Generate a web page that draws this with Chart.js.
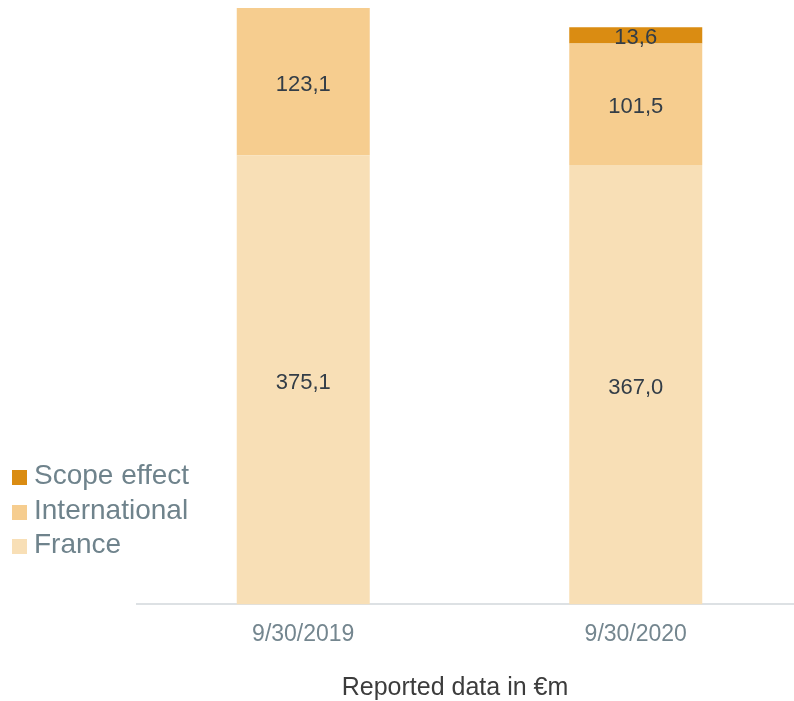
<!DOCTYPE html>
<html>
<head>
<meta charset="utf-8">
<script src="https://cdn.jsdelivr.net/npm/chart.js@4"></script>
<style>
  html, body { margin: 0; padding: 0; background: #fff; }
  #wrap { position: relative; width: 794px; height: 701px; overflow: hidden; }
  #legende { position: absolute; left: 12px; top: 458px; font-family: "Liberation Sans", Arial, sans-serif; font-size: 28px; color: #6f838c; }
  #legende div { height: 34.5px; line-height: 34.5px; white-space: nowrap; }
  #legende span { display: inline-block; width: 15px; height: 15px; margin-right: 7px; vertical-align: -1px; }
</style>
</head>
<body>
<div id="wrap">
  <canvas id="grafico1" width="802" height="701"></canvas>
  <div id="legende"></div>
</div>
<script>
// dados
const categorias = ['9/30/2019', '9/30/2020'];
const france = [375.1, 367.0];
const international = [123.1, 101.5];
const scopeEffect = [null, 13.6];
const tituloEixo = 'Reported data in €m';

const series = [
    { label: 'France', data: france, color: '#f8dfb6' },
    { label: 'International', data: international, color: '#f6cd8f' },
    { label: 'Scope effect', data: scopeEffect, color: '#da8c12' }
];

// legenda (ordem inversa, como no original)
const legende = document.getElementById('legende');
series.slice().reverse().forEach(s => {
    const linha = document.createElement('div');
    linha.innerHTML = '<span style="background:' + s.color + '"></span>' + s.label;
    legende.appendChild(linha);
});

// escreve os valores no meio de cada bloco + título em baixo
const rotulos = {
    id: 'rotulos',
    afterDatasetsDraw(chart) {
        const c = chart.ctx;
        c.save();
        c.font = '22px "Liberation Sans", Arial, sans-serif';
        c.fillStyle = '#333d47';
        c.textAlign = 'center';
        c.textBaseline = 'middle';
        chart.data.datasets.forEach((ds, i) => {
            const meta = chart.getDatasetMeta(i);
            meta.data.forEach((bar, j) => {
                const v = ds.data[j];
                if (v == null) return;
                const y = (bar.y + bar.base) / 2 + 3;
                c.fillText(v.toFixed(1).replace('.', ','), bar.x, y);
            });
        });
        c.font = '25px "Liberation Sans", Arial, sans-serif';
        c.fillStyle = '#3c3c3c';
        c.fillText(tituloEixo, 455, chart.chartArea.bottom + 84);
        c.restore();
    }
};

const ctx = document.getElementById('grafico1');
let chart = new Chart(ctx, {
    type: 'bar',
    data: {
        labels: categorias,
        datasets: series.map(s => ({
            label: s.label,
            data: s.data,
            backgroundColor: s.color,
            borderWidth: 0,
            categoryPercentage: 0.8,
            barPercentage: 0.5
        }))
    },
    options: {
        responsive: false,
        animation: false,
        layout: { padding: { left: 137, right: 0, top: 8, bottom: 37 } },
        plugins: {
            legend: { display: false },
            tooltip: { enabled: false }
        },
        scales: {
            x: {
                stacked: true,
                grid: { display: false, drawTicks: false },
                border: { display: true, color: '#dde1e4', width: 2 },
                ticks: {
                    color: '#74868f',
                    padding: 16,
                    font: { family: '"Liberation Sans", Arial, sans-serif', size: 23 }
                }
            },
            y: {
                stacked: true,
                display: false,
                min: 0,
                max: 498.2
            }
        }
    },
    plugins: [rotulos]
});
</script>
</body>
</html>
